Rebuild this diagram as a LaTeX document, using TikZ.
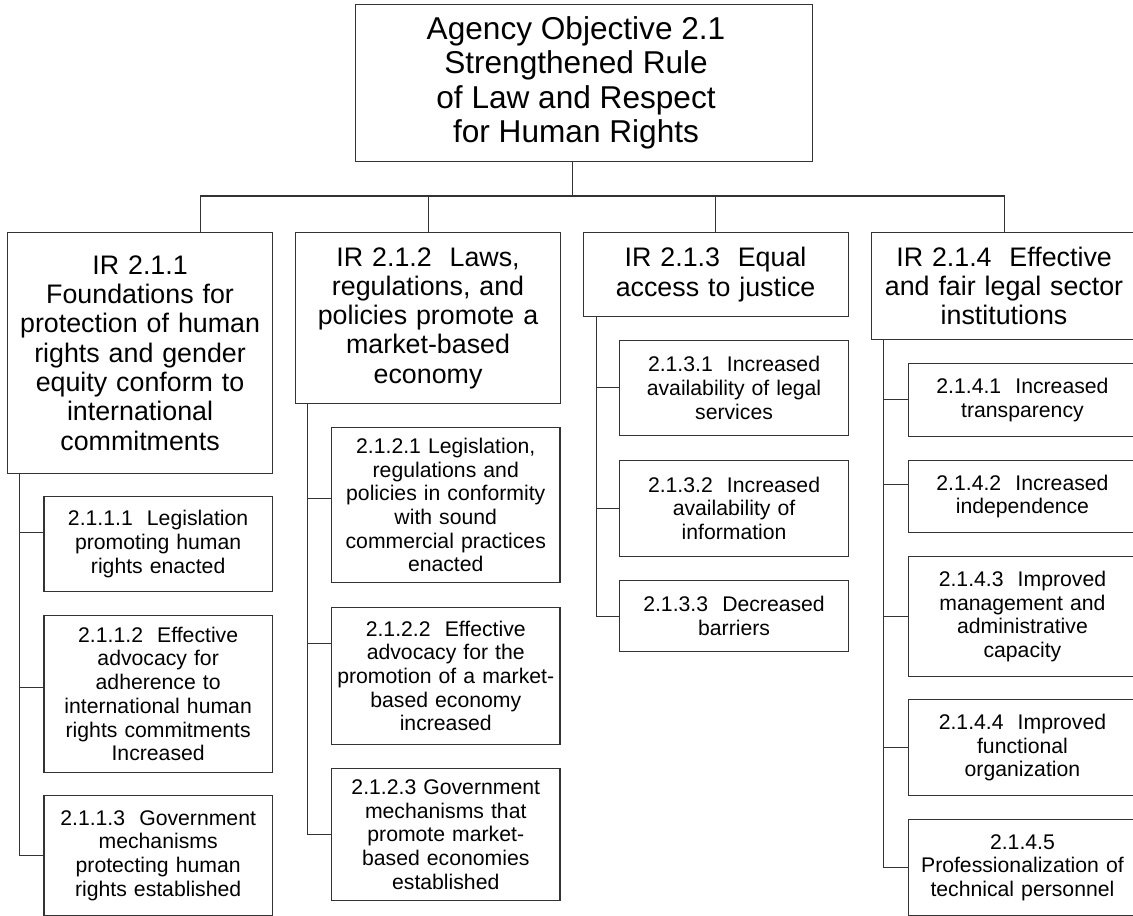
\documentclass[tikz,border=0pt]{standalone}
\usepackage{fontspec}
\setmainfont{Liberation Sans}
\begin{document}
\begin{tikzpicture}[x=1pt,y=-1pt]
\tikzset{
  boxbase/.style={draw=black!80, line width=1.1pt, inner sep=0pt, anchor=north west, align=center},
  topfont/.style={font=\fontsize{31.6}{34.5}\selectfont},
  irbox/.style={boxbase, minimum width=265pt, text width=255pt, font=\fontsize{26.8}{29.3}\selectfont},
  subbox/.style={boxbase, minimum width=228.4pt, text width=222pt, font=\fontsize{21.2}{23.7}\selectfont},
  conn/.style={draw=black!80, line width=1.1pt},
}
\useasboundingbox (0,0) rectangle (1133,916);
\fill[white] (0,0) rectangle (1133,916);
\clip (0,0) rectangle (1133,916);

% top box
\node[boxbase, minimum width=457pt, minimum height=157pt,
  label={[topfont, align=center, xshift=-8pt]center:Agency Objective 2.1\\Strengthened Rule\\of Law and Respect\\for Human Rights}] (top) at (355,4) {};

% level 2
\node[irbox, minimum height=241pt] (b1) at (7,232) {IR 2.1.1\\Foundations for\\protection of human\\rights and gender\\equity conform to\\international\\commitments};
\node[irbox, minimum height=171pt] (b2) at (295,232) {IR 2.1.2\ \ Laws,\\regulations, and\\policies promote a\\market-based\\economy};
\node[irbox, minimum height=84pt] (b3) at (582.5,232) {IR 2.1.3\ \ Equal\\access to justice};
\node[irbox, minimum height=107pt] (b4) at (871,232) {IR 2.1.4\ \ Effective\\and fair legal sector\\institutions};

% level 3, column 1
\node[subbox, minimum height=95pt] (c111) at (43.4,496) {2.1.1.1\ \ Legislation\\promoting human\\rights enacted};
\node[subbox, minimum height=156.7pt] (c112) at (43.4,615) {2.1.1.2\ \ Effective\\advocacy for\\adherence to\\international human\\rights commitments\\Increased};
\node[subbox, minimum height=120pt] (c113) at (43.4,795) {2.1.1.3\ \ Government\\mechanisms\\protecting human\\rights established};

% column 2
\node[subbox, minimum height=155.6pt] (c121) at (331,426.7) {2.1.2.1 Legislation,\\regulations and\\policies in conformity\\with sound\\commercial practices\\enacted};
\node[subbox, minimum height=137.3pt] (c122) at (331,606.7) {2.1.2.2\ \ Effective\\advocacy for the\\promotion of a market-\\based economy\\increased};
\node[subbox, minimum height=132pt] (c123) at (331,768) {2.1.2.3 Government\\mechanisms that\\promote market-\\based economies\\established};

% column 3
\node[subbox, minimum height=94.5pt] (c131) at (619.3,340) {2.1.3.1\ \ Increased\\availability of legal\\services};
\node[subbox, minimum height=95.7pt] (c132) at (619.3,460) {2.1.3.2\ \ Increased\\availability of\\information};
\node[subbox, minimum height=71pt] (c133) at (619.3,580) {2.1.3.3\ \ Decreased\\barriers};

% column 4
\node[subbox, minimum height=72.7pt] (c141) at (907.7,363) {2.1.4.1\ \ Increased\\transparency};
\node[subbox, minimum height=71.7pt] (c142) at (907.7,460) {2.1.4.2\ \ Increased\\independence};
\node[subbox, minimum height=119.7pt] (c143) at (907.7,556) {2.1.4.3\ \ Improved\\management and\\administrative\\capacity};
\node[subbox, minimum height=96pt] (c144) at (907.7,699) {2.1.4.4\ \ Improved\\functional\\organization};
\node[subbox, minimum height=95.7pt] (c145) at (907.7,819.3) {2.1.4.5\\Professionalization of\\technical personnel};

% top connectors
\coordinate (tj) at ([xshift=-11.8pt]top.south |- 0,196);
\draw[conn] ([xshift=-11.8pt]top.south) -- (tj);
\draw[conn] ([xshift=60.5pt]b1.north) |- (tj) -| (b4.north);
\draw[conn] (b2.north) -- (b2.north |- tj);
\draw[conn] (b3.north) -- (b3.north |- tj);

% spines
\coordinate (s1) at ([xshift=12.3pt]b1.south west);
\coordinate (s2) at ([xshift=12.5pt]b2.south west);
\coordinate (s3) at ([xshift=14pt]b3.south west);
\coordinate (s4) at ([xshift=12.5pt]b4.south west);

\draw[conn] (s1) |- (c113.west);
\draw[conn] ([yshift=11.5pt]c111.west) -- ([yshift=11.5pt]c111.west -| s1);
\draw[conn] ([yshift=6.4pt]c112.west) -- ([yshift=6.4pt]c112.west -| s1);

\draw[conn] (s2) |- (c123.west);
\draw[conn] ([yshift=6.2pt]c121.west) -- ([yshift=6.2pt]c121.west -| s2);
\draw[conn] ([yshift=32.6pt]c122.west) -- ([yshift=32.6pt]c122.west -| s2);

\draw[conn] (s3) |- (c133.west);
\draw[conn] (c131.west) -- (c131.west -| s3);
\draw[conn] (c132.west) -- (c132.west -| s3);

\draw[conn] (s4) |- (c145.west);
\draw[conn] (c141.west) -- (c141.west -| s4);
\draw[conn] ([yshift=12pt]c142.west) -- ([yshift=12pt]c142.west -| s4);
\draw[conn] (c143.west) -- (c143.west -| s4);
\draw[conn] (c144.west) -- (c144.west -| s4);
\end{tikzpicture}
\end{document}
